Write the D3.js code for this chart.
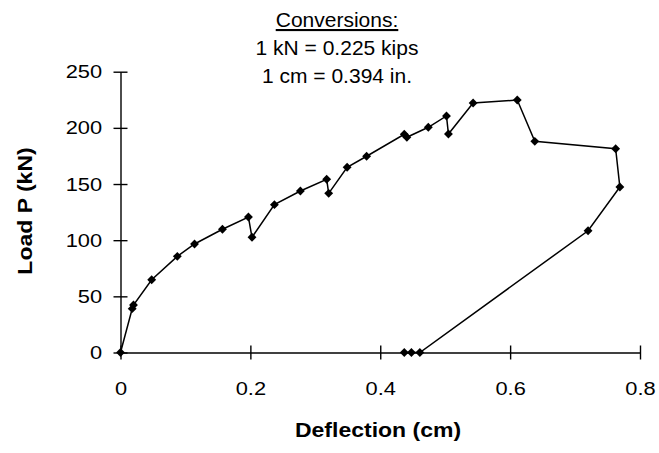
<!DOCTYPE html>
<html>
<head>
<meta charset="utf-8">
<script src="https://cdn.jsdelivr.net/npm/d3@7"></script>
<style>
body { margin: 0; background: #fff; }
svg text { font-family: "Liberation Sans", Arial, sans-serif; fill: #000; }
</style>
</head>
<body>
<svg></svg>
<script>
// load-deflection readings, in plotting order
const deflection = [0, 0.018, 0.020, 0.048, 0.0875, 0.114, 0.157, 0.197, 0.2025, 0.237,
    0.277, 0.3175, 0.3206, 0.349, 0.379, 0.437, 0.441, 0.474, 0.502, 0.505,
    0.543, 0.611, 0.638, 0.7625, 0.769, 0.720, 0.461, 0.448, 0.437];
const load = [0, 39, 42.3, 64.8, 85.6, 96.6, 109.7, 120.6, 102.6, 131.6,
    143.8, 154.2, 141.7, 164.9, 174.7, 194.3, 191.6, 200.5, 210.6, 194.5,
    222.1, 224.8, 188, 181.4, 147.3, 108.4, 0, 0, 0];
const xTicks = [0, 0.2, 0.4, 0.6, 0.8];
const yTicks = [0, 50, 100, 150, 200, 250];
const noteTitle = "Conversions:";
const notes = ["1 kN = 0.225 kips", "1 cm = 0.394 in."];

const width = 659, height = 453;
const stretch = 1.15;

const svg = d3.select("svg")
    .attr("width", width)
    .attr("height", height);

const x = d3.scaleLinear().domain([0, 0.8]).range([120.5, 640]);
const y = d3.scaleLinear().domain([0, 250]).range([352.5, 71.7]);

const data = deflection.map((d, i) => ({x: d, y: load[i]}));

// axes, ticks cross the line
const xAxis = svg.append("g")
    .attr("transform", "translate(0," + y(0) + ")")
    .call(d3.axisBottom(x).tickValues(xTicks).tickFormat(d3.format("")).tickSizeInner(7).tickSizeOuter(0).tickPadding(22));
xAxis.selectAll(".tick line").attr("y1", -7);
xAxis.selectAll(".tick text")
    .attr("font-size", 19)
    .attr("transform", "scale(" + stretch + ",1)");

const yAxis = svg.append("g")
    .attr("transform", "translate(" + x(0) + ",0)")
    .call(d3.axisLeft(y).tickValues(yTicks).tickSizeInner(7).tickSizeOuter(0).tickPadding(9));
yAxis.selectAll(".tick line").attr("x1", 7);
yAxis.selectAll(".tick text")
    .attr("font-size", 19)
    .attr("transform", "scale(" + stretch + ",1)");

svg.selectAll(".domain, .tick line").attr("stroke", "#000").attr("stroke-width", 1.4);
svg.selectAll(".tick text").attr("fill", "#000");

// curve
svg.append("path")
    .datum(data)
    .attr("fill", "none")
    .attr("stroke", "#000")
    .attr("stroke-width", 1.5)
    .attr("d", d3.line().x(d => x(d.x)).y(d => y(d.y)));

svg.selectAll(".pt")
    .data(data)
    .enter()
    .append("path")
    .attr("class", "pt")
    .attr("transform", d => "translate(" + x(d.x) + "," + y(d.y) + ")")
    .attr("d", d3.symbol(d3.symbolDiamond2, 50))
    .attr("fill", "#000");

// axis titles
svg.append("text")
    .attr("transform", "translate(378,437) scale(" + stretch + ",1)")
    .attr("text-anchor", "middle")
    .attr("font-size", 20)
    .attr("font-weight", "bold")
    .text("Deflection (cm)");

svg.append("text")
    .attr("transform", "translate(32,211) rotate(-90) scale(" + stretch + ",1)")
    .attr("text-anchor", "middle")
    .attr("font-size", 20)
    .attr("font-weight", "bold")
    .text("Load P (kN)");

// conversion note
const note = svg.append("g").attr("transform", "translate(337,0)");
note.append("text")
    .attr("y", 27)
    .attr("text-anchor", "middle")
    .attr("font-size", 21)
    .attr("text-decoration", "underline")
    .text(noteTitle);
note.selectAll(".line")
    .data(notes)
    .enter()
    .append("text")
    .attr("y", (d, i) => 54.5 + i * 28)
    .attr("text-anchor", "middle")
    .attr("font-size", 21)
    .text(d => d);
</script>
</body>
</html>
